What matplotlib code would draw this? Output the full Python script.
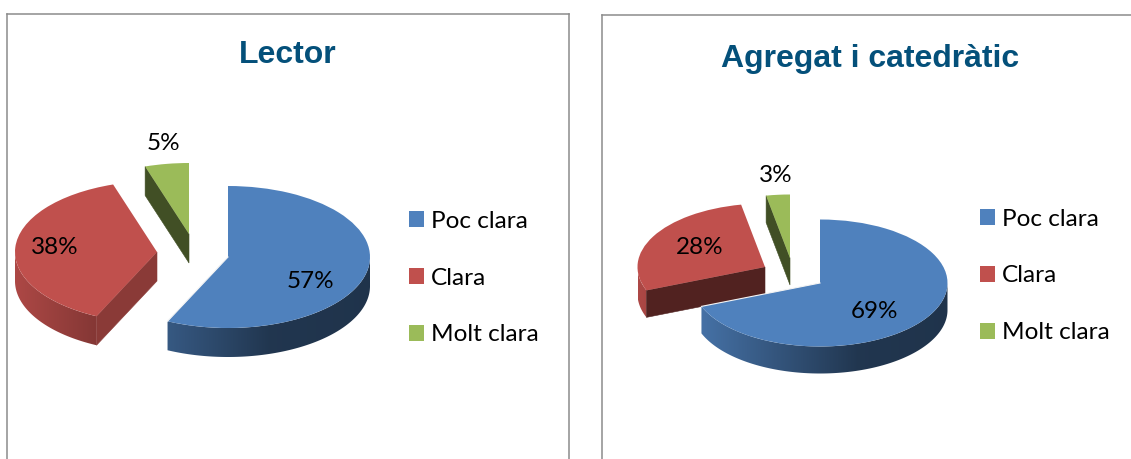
import numpy as np
import matplotlib
matplotlib.use("Agg")
import matplotlib.pyplot as plt
from matplotlib.patches import Polygon
from matplotlib.transforms import Affine2D

W, H = 1131, 459

CATEGORIES = ['Poc clara', 'Clara', 'Molt clara']
LECTOR_VALUES = [57, 38, 5]
AGREGAT_VALUES = [69, 28, 3]
COLORS = ['#4f81bd', '#c0504d', '#9bbb59']

plt.rcParams['font.family'] = ['Lato', 'DejaVu Sans']


def shade(color, factor):
    rgb = np.array(matplotlib.colors.to_rgb(color))
    return rgb * factor


def draw_panel(box, title, title_xy, values, center, rx, ry, depth, offsets, cut_shade,
               label_xy, legend_xy):
    # everything in the pie axes is measured in pie radii, the pixel box only places the axes
    x0, y0, x1, y1 = box
    cx, cy = center
    ax = fig.add_axes([x0 / W, 1 - y1 / H, (x1 - x0) / W, (y1 - y0) / H])
    wedges, _ = ax.pie(values, colors=COLORS, startangle=90, counterclock=False, radius=1)
    for s in ax.spines.values():
        s.set_color('#8c8c8c')
        s.set_linewidth(1.1)

    tilt = ry / rx
    h = depth / rx
    layers = [3, 2, 1]
    grad_x = np.linspace(-1, 1, 256)
    grad_f = np.interp(grad_x, [-1, -0.4, 0.3, 1], [0.9, 0.68, 0.42, 0.4])
    for k, (wedge, color, off, z, cs) in enumerate(zip(wedges, COLORS, offsets, layers, cut_shade)):
        dx, dy = off[0] / rx, -off[1] / rx
        wedge.set_transform(Affine2D().scale(1, tilt).translate(dx, dy) + ax.transData)
        wedge.set_linewidth(0)
        wedge.set_zorder(z + 0.5)

        # outer wall: gradient image clipped to the visible part of the rim
        lo, hi = wedge.theta1, wedge.theta2
        t = np.radians(np.linspace(lo, hi, 360))
        t = t[np.sin(t) <= 0]
        if len(t) > 1:
            xs = np.cos(t) + dx
            ys = np.sin(t) * tilt + dy
            pts = np.column_stack([np.r_[xs, xs[::-1]], np.r_[ys, ys[::-1] - h]])
            clip = Polygon(pts, closed=True, transform=ax.transData)
            img = np.array([[shade(color, f) for f in grad_f]])
            im = ax.imshow(img, extent=[dx - 1, dx + 1, dy - tilt - h, dy + tilt],
                           aspect='auto', zorder=z, interpolation='bilinear')
            im.set_clip_path(clip)

        # cut face on the clockwise start of the slice
        a = np.radians(hi)
        ex, ey = np.cos(a) + dx, np.sin(a) * tilt + dy
        ax.fill([dx, ex, ex, dx], [dy, ey, ey - h, dy - h],
                color=tuple(shade(color, cs)), lw=0.4, zorder=z + 0.1)

        # thin light seam along the far edge of the big slice
        if k == 0:
            b = np.radians(lo)
            ax.plot([dx, np.cos(b) + dx], [dy, np.sin(b) * tilt + dy], color='#f4f4f4',
                    lw=0.8, zorder=z + 0.6)

    ax.set_xlim((x0 - cx) / rx, (x1 - cx) / rx)
    ax.set_ylim((cy - y1) / rx, (cy - y0) / rx)
    ax.set_aspect('auto')
    ax.set_frame_on(True)

    def to_data(x, y):
        return (x - cx) / rx, (cy - y) / rx

    for v, (lx, ly) in zip(values, label_xy):
        tx, ty = to_data(lx, ly)
        ax.text(tx, ty, f'{v}%', ha='center', va='center', fontsize=17.5, color='black', zorder=10)

    tx, ty = to_data(*title_xy)
    ax.text(tx, ty, title, ha='center', va='baseline', fontsize=23, fontweight='bold',
            family='Liberation Sans', color='#04507a', zorder=10)

    ax.legend(wedges, CATEGORIES, loc='center left', frameon=False, fontsize=17.6,
              bbox_to_anchor=(legend_xy[0] / W, 1 - legend_xy[1] / H),
              bbox_transform=fig.transFigure, borderaxespad=0, borderpad=0,
              handlelength=0.61, handleheight=0.61, handletextpad=0.27, labelspacing=1.47)


fig = plt.figure(figsize=(W / 100, H / 100), dpi=100)

draw_panel((7, 14, 569, 480), 'Lector', (288, 63.5), LECTOR_VALUES,
           (228, 257), 142, 71, 29, [(0, 0), (-71, -5), (-39, -23)], [0.4, 0.72, 0.42],
           [(310.5, 282), (55, 247), (163, 143)], (409, 278))

draw_panel((602, 15, 1145, 480), 'Agregat i catedràtic', (870, 67), AGREGAT_VALUES,
           (820, 283), 127.5, 63.5, 27, [(0, 0), (-55, -16), (-30, -25)], [0.4, 0.42, 0.42],
           [(874, 311), (700, 247), (776, 175)], (980, 276))

fig.savefig('out.png', dpi=100)
plt.close(fig)
